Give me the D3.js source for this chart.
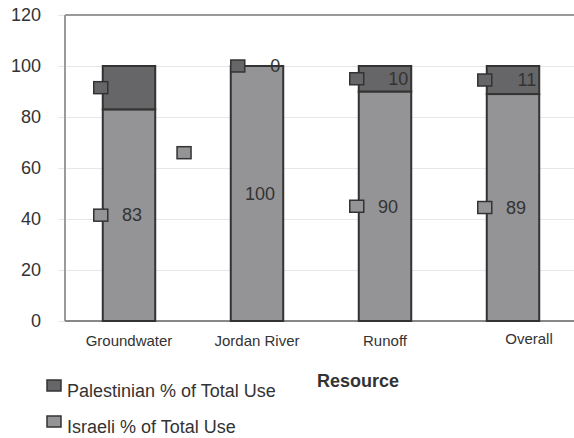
<!DOCTYPE html>
<html>
<head>
<meta charset="utf-8">
<script src="https://cdn.jsdelivr.net/npm/d3@7"></script>
<style>
  body { margin: 0; background: #fff; }
  text { font-family: "Liberation Sans", Arial, sans-serif; fill: #333; }
</style>
</head>
<body>
<div id="chart"></div>
<script>
var w = 574, h = 438;

// data
var categories = ["Groundwater", "Jordan River", "Runoff", "Overall"];
var israeli = [83, 100, 90, 89];
var palestinian = [17, 0, 10, 11];
var palShowLabel = [false, true, true, true];   // "17" is not printed
var isrShowMarker = [true, false, true, true];  // Jordan River marker sits off on its own
var strayMarker = {after: "Groundwater", value: 66};
var yTicks = [0, 20, 40, 60, 80, 100, 120];
var seriesNames = ["Palestinian % of Total Use", "Israeli % of Total Use"];

var palColor = "#666668", isrColor = "#949496", edge = "#333";

var svg = d3.select("#chart").append("svg")
    .attr("width", w).attr("height", h);

var plotLeft = 65, plotRight = 577, plotTop = 15, plotBottom = 321;

var x = d3.scaleBand().domain(categories).range([plotLeft, plotRight]).padding(0);
var y = d3.scaleLinear().domain([0, 120]).range([plotBottom, plotTop]);
var barW = x.bandwidth() * 0.41;

var data = categories.map(function(c, i) {
  return {cat: c, isr: israeli[i], pal: palestinian[i],
          showLabel: palShowLabel[i], showMarker: isrShowMarker[i]};
});

// gridlines + y axis
svg.append("g")
    .attr("transform", "translate(" + plotLeft + ",0)")
    .call(d3.axisLeft(y).tickValues(yTicks).tickSize(-(w - plotLeft)).tickPadding(24))
    .call(function(g) {
      g.select(".domain").remove();
      g.selectAll(".tick line").attr("stroke", "#e6e6e6").attr("x1", -7);
      g.selectAll(".tick text").style("font-size", "18px").attr("fill", "#333");
    });

// frame: top and left
svg.append("line").attr("x1", plotLeft).attr("x2", w).attr("y1", y(120)).attr("y2", y(120))
    .attr("stroke", "#9a9a9a").attr("stroke-width", 2);
svg.append("line").attr("x1", plotLeft).attr("x2", plotLeft).attr("y1", y(120)).attr("y2", y(0))
    .attr("stroke", "#9a9a9a").attr("stroke-width", 2);

// x axis
svg.append("g")
    .attr("transform", "translate(0," + plotBottom + ")")
    .call(d3.axisBottom(x).tickSize(0).tickPadding(14))
    .call(function(g) {
      g.select(".domain").attr("stroke", "#888").attr("stroke-width", 2)
        .attr("d", "M" + plotLeft + ",0H" + w);
      g.selectAll(".tick text").style("font-size", "15px").attr("fill", "#444");
      g.selectAll(".tick text").filter(function(d) { return d === "Overall"; })
        .attr("dx", 16).attr("dy", "0.6em");
    });

// bars
var bars = svg.append("g");
function barLeft(d) { return x(d.cat) + (x.bandwidth() - barW) / 2; }
bars.selectAll(".isr").data(data).enter().append("rect")
    .attr("x", barLeft)
    .attr("y", function(d) { return y(d.isr); })
    .attr("width", barW)
    .attr("height", function(d) { return y(0) - y(d.isr); })
    .attr("fill", isrColor).attr("stroke", edge).attr("stroke-width", 2);
bars.selectAll(".pal").data(data).enter().append("rect")
    .attr("x", barLeft)
    .attr("y", function(d) { return y(d.isr + d.pal); })
    .attr("width", barW)
    .attr("height", function(d) { return y(d.isr) - y(d.isr + d.pal); })
    .attr("fill", palColor).attr("stroke", edge).attr("stroke-width", 2);

// markers
function marker(g, cx, cy, fill) {
  g.append("rect").attr("x", cx - 7).attr("y", cy - 6).attr("width", 14).attr("height", 12)
    .attr("fill", fill).attr("stroke", edge).attr("stroke-width", 1.5);
}
var marks = svg.append("g");
data.forEach(function(d) {
  var dx = d.cat === "Jordan River" ? 9 : 0;
  marker(marks, barLeft(d) - 2 + dx, y(d.isr + d.pal / 2), palColor);
  if (d.showMarker) marker(marks, barLeft(d) - 2, y(d.isr / 2), isrColor);
});
marker(marks, x(strayMarker.after) + x.bandwidth() / 2 + x.step() * 0.43, y(strayMarker.value), isrColor);

// value labels
var labels = svg.append("g").style("font-size", "18px");
labels.selectAll(".il").data(data).enter().append("text")
    .attr("x", function(d) { return x(d.cat) + x.bandwidth() / 2 + 3; })
    .attr("y", function(d) { return y(d.isr / 2); })
    .attr("dy", "0.35em")
    .attr("text-anchor", "middle")
    .text(function(d) { return d.isr; });
labels.selectAll(".pl").data(data.filter(function(d) { return d.showLabel; })).enter().append("text")
    .attr("x", function(d) { return barLeft(d) + barW - 3; })
    .attr("y", function(d) { return y(d.isr + d.pal / 2); })
    .attr("dy", "0.35em")
    .attr("text-anchor", "end")
    .text(function(d) { return d.pal; });

// axis title
svg.append("text")
    .attr("x", 358).attr("y", 387)
    .attr("text-anchor", "middle")
    .style("font-size", "18px").style("font-weight", "bold")
    .text("Resource");

// legend
var legend = svg.append("g").selectAll("g").data(seriesNames).enter().append("g")
    .attr("transform", function(d, i) { return "translate(47," + (380 + i * 36) + ")"; });
legend.append("rect").attr("width", 14).attr("height", 11)
    .attr("fill", function(d, i) { return i === 0 ? palColor : isrColor; })
    .attr("stroke", edge).attr("stroke-width", 1.5);
legend.append("text").attr("x", 20).attr("y", 17)
    .style("font-size", "18px")
    .text(function(d) { return d; });
</script>
</body>
</html>
